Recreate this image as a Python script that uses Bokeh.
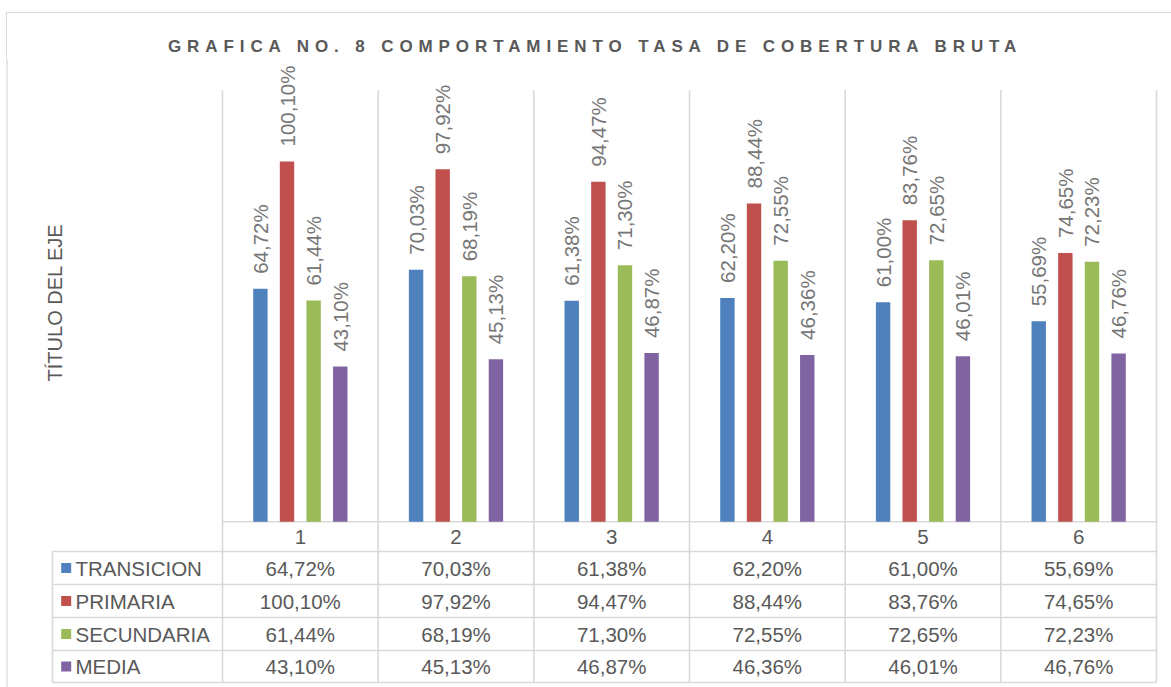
from bokeh.plotting import figure
from bokeh.models import Range1d, Div, ColumnDataSource
from bokeh.layouts import column
from bokeh.core.properties import value
from bokeh.embed import file_html
from bokeh.resources import INLINE
import math

# ---------------- data ----------------
categories = ["1", "2", "3", "4", "5", "6"]
series_names = ["TRANSICION", "PRIMARIA", "SECUNDARIA", "MEDIA"]
transicion = [64.72, 70.03, 61.38, 62.20, 61.00, 55.69]
primaria = [100.10, 97.92, 94.47, 88.44, 83.76, 74.65]
secundaria = [61.44, 68.19, 71.30, 72.55, 72.65, 72.23]
media = [43.10, 45.13, 46.87, 46.36, 46.01, 46.76]
title_text = "GRAFICA NO. 8 COMPORTAMIENTO TASA DE COBERTURA BRUTA"
y_title = "TÍTULO DEL EJE"

series = [transicion, primaria, secundaria, media]
colors = ["#4F81BD", "#C0504D", "#9BBB59", "#8064A2"]

def fmt(v):
    return f"{v:.2f}".replace(".", ",") + "%"

# ---------------- geometry (page pixels) ----------------
DIV_H = 58
FIG_LEFT, FIG_TOP, W, H = 0, DIV_H, 1171, 687 - DIV_H
PLOT_L, PLOT_R, PLOT_T, PLOT_B = 222, 1156, 89.4, 521.2
YMAX = 120
N = len(categories)

def dx(X):
    return 0.5 + (X - PLOT_L) * N / (PLOT_R - PLOT_L)

def dy(Y):
    return (PLOT_B - Y) * YMAX / (PLOT_B - PLOT_T)

PX_PER_UNIT = (PLOT_B - PLOT_T) / YMAX

FONT = "Liberation Sans"
GRID = "#d9d9d9"
TXT = "#595959"
LBL = "#767676"
FS = "20.5px"

p = figure(width=W, height=H, output_backend="svg", toolbar_location=None,
           x_range=Range1d(dx(FIG_LEFT), dx(FIG_LEFT + W)),
           y_range=Range1d(dy(FIG_TOP + H), dy(FIG_TOP)),
           x_axis_location=None, y_axis_location=None, min_border=0)
p.grid.visible = False
p.outline_line_color = None
p.background_fill_color = "white"
p.border_fill_color = "white"

# ---------------- grid / table lines ----------------
TABLE_L = 52
row_lines = [551, 584, 617, 650, 682]
p.segment(x0=[i + 0.5 for i in range(N + 1)], x1=[i + 0.5 for i in range(N + 1)],
          y0=dy(682), y1=YMAX, line_color=GRID, line_width=1.6)
p.segment(x0=[0.5], x1=[N + 0.5], y0=[0], y1=[0], line_color=GRID, line_width=1.6)
p.segment(x0=dx(TABLE_L), x1=N + 0.5, y0=[dy(r) for r in row_lines],
          y1=[dy(r) for r in row_lines], line_color=GRID, line_width=1.6)
p.segment(x0=[dx(TABLE_L)], x1=[dx(TABLE_L)], y0=[dy(551)], y1=[dy(682)],
          line_color=GRID, line_width=1.6)
# chart outer border (left)
p.segment(x0=[dx(6.5)], x1=[dx(6.5)], y0=[dy(FIG_TOP)], y1=[dy(FIG_TOP + H)],
          line_color=GRID, line_width=1.2)

# ---------------- bars ----------------
offsets = [-0.2565, -0.0855, 0.0855, 0.2565]
bar_w = 0.0925
xs = list(range(1, N + 1))
label_gap = 15 / PX_PER_UNIT
for vals, col, off, name in zip(series, colors, offsets, series_names):
    src = ColumnDataSource(dict(x=[x + off for x in xs], top=vals,
                                ly=[v + label_gap for v in vals],
                                lab=[fmt(v) for v in vals]))
    p.vbar(x="x", top="top", bottom=0, width=bar_w, source=src,
           fill_color=col, line_color=None)
    p.text(x="x", y="ly", text="lab", source=src, angle=math.pi / 2,
           text_align="left", text_baseline="middle",
           text_font=value(FONT), text_font_size=FS, text_color=LBL)

# ---------------- table texts ----------------
p.text(x=xs, y=[dy(536)] * N, text=categories, text_align="center",
       text_baseline="middle", text_font=value(FONT), text_font_size=FS,
       text_color=TXT)
row_centers = [567.5, 600.5, 633.5, 666]
for vals, col, rc, name in zip(series, colors, row_centers, series_names):
    p.text(x=xs, y=[dy(rc)] * N, text=[fmt(v) for v in vals],
           text_align="center", text_baseline="middle", text_font=value(FONT),
           text_font_size=FS, text_color=TXT)
    p.scatter(x=[dx(65.7)], y=[dy(rc)], marker="square", size=10,
              fill_color=col, line_color=None)
    p.text(x=[dx(75)], y=[dy(rc)], text=[name], text_align="left",
           text_baseline="middle", text_font=value(FONT),
           text_font_size=FS, text_color=TXT)

# axis title
p.text(x=[dx(54)], y=[dy(302)], text=[y_title], angle=math.pi / 2,
       text_align="center", text_baseline="middle", text_font=value(FONT),
       text_font_size="20px", text_color=TXT)

# ---------------- title (letter-spaced) ----------------
title_html = (
    '<div style="box-sizing:border-box;width:%dpx;height:%dpx;margin-top:12px;'
    'margin-left:6px;border-top:1px solid #d9d9d9;border-left:1px solid #d9d9d9;'
    'padding-top:25px;padding-left:161px;white-space:nowrap;'
    "font-family:'Liberation Sans',Arial,sans-serif;font-weight:bold;"
    'font-size:17px;line-height:17px;letter-spacing:5.9px;color:#595959;">'
    '%s</div>' % (W - 6, DIV_H - 12, title_text)
)
div = Div(text=title_html, width=W, height=DIV_H, margin=(0, 0, 0, 0))

layout = column(div, p, spacing=0, margin=(0, 0, 0, 0))
open("out.html", "w").write(file_html(layout, INLINE))
